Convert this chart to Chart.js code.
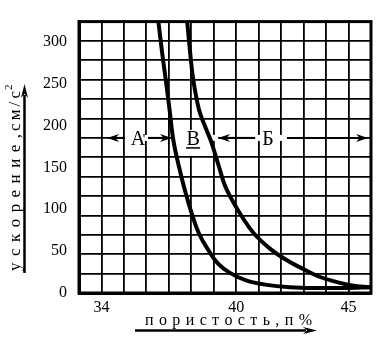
<!DOCTYPE html>
<html>
<head>
<meta charset="utf-8">
<script src="https://cdn.jsdelivr.net/npm/chart.js@4"></script>
<style>
  html, body { margin: 0; padding: 0; background: #fff; }
  #wrap { width: 378px; height: 338px; }
</style>
</head>
<body>
<div id="wrap"><canvas id="c" width="378" height="338"></canvas></div>
<script>
// Tick labels shown on the axes
const porosityTicks = [34, 40, 45];
const accelTicks = [0, 50, 100, 150, 200, 250, 300];

// Curve 1 (left): porosity n, % and acceleration, cm/s²
const porosityA = [36.50, 36.70, 36.87, 37.03, 37.21, 37.45, 37.72, 38.03, 38.34, 38.74, 39.19, 39.72, 40.44, 41.28, 42.39, 43.73, 45.07, 45.96];
const accelA    = [332,   287,   253,   219,   181,   151,   122,   94,    71,    52,    35,    24,    15,    10,    7,     6,     6,     7];

// Curve 2 (right)
const porosityB = [37.79, 37.92, 38.08, 38.34, 38.61, 38.88, 39.23, 39.50, 39.86, 40.26, 40.79, 41.50, 42.20, 42.88, 43.64, 44.49, 45.15, 45.96];
const accelB    = [332,   295,   256,   219,   199,   181,   151,   128,   109,   91,    71,    53,    40,    30,    20,    13,    9,     7];

// Zone labels on the arrow row and their arrows (porosity values)
const zoneLabels = ["А", "В", "Б"];
const zoneLabelX = [35.63, 38.08, 41.41];
const arrowFrom  = [35.05, 36.07, 40.84, 42.26];
const arrowTo    = [34.25, 37.14, 39.19, 45.87];

const X_MIN = 33, X_MAX = 46, Y_MAX = 324, Y_GRID = 14, ROW_LINE = 8;
const SERIF = '"Liberation Serif", "DejaVu Serif", serif';

const yGridValues = Array.from({ length: Y_GRID + 1 }, (_, k) => k * Y_MAX / Y_GRID);
const isGridValue = v => yGridValues.some(g => Math.abs(g - v) < 1e-6);
const rowValue = yGridValues[ROW_LINE];

function toPoints(xs, ys) { return xs.map((x, i) => ({ x, y: ys[i] })); }

// draws characters evenly spread between start and end along the x direction
function drawEven(ctx, text, start, end, y) {
  const chars = [...text];
  const w = chars.map(c => ctx.measureText(c).width);
  const total = w.reduce((a, b) => a + b, 0);
  const gap = chars.length > 1 ? (end - start - total) / (chars.length - 1) : 0;
  let p = start;
  chars.forEach((c, i) => { ctx.fillText(c, p, y); p += w[i] + gap; });
}

function arrowHead(ctx, tipX, tipY, dx, dy, len, half) {
  // (dx, dy) is the unit direction the arrow points to
  const bx = tipX - dx * len, by = tipY - dy * len;
  const nx = -dy, ny = dx;
  ctx.beginPath();
  ctx.moveTo(tipX, tipY);
  ctx.lineTo(bx + nx * half, by + ny * half);
  ctx.lineTo(tipX - dx * len * 0.7, tipY - dy * len * 0.7);
  ctx.lineTo(bx - nx * half, by - ny * half);
  ctx.closePath();
  ctx.fill();
}

const figureDecor = {
  id: 'figureDecor',
  beforeDatasetsDraw(chart) {
    const { ctx, scales: { x, y } } = chart;
    const rowY = y.getPixelForValue(rowValue);
    ctx.save();
    // clear the grid line behind the zone labels and between the curves
    ctx.fillStyle = '#fff';
    const gaps = [[arrowFrom[0], arrowFrom[1]], [arrowTo[1], arrowTo[2]], [arrowFrom[2], arrowFrom[3]]];
    for (const [a, b] of gaps) {
      const p0 = x.getPixelForValue(a), p1 = x.getPixelForValue(b);
      ctx.fillRect(p0, rowY - 3, p1 - p0, 6);
    }
    const bx = x.getPixelForValue(zoneLabelX[1]);
    ctx.fillRect(bx - 8, rowY - 8, 16, 26);

    // arrows
    ctx.strokeStyle = '#000';
    ctx.fillStyle = '#000';
    ctx.lineWidth = 2;
    arrowFrom.forEach((f, i) => {
      const p0 = x.getPixelForValue(f), p1 = x.getPixelForValue(arrowTo[i]);
      const dir = Math.sign(p1 - p0);
      ctx.beginPath();
      ctx.moveTo(p0, rowY);
      ctx.lineTo(p1 - dir * 8, rowY);
      ctx.stroke();
      arrowHead(ctx, p1, rowY, dir, 0, 12, 4);
    });

    // zone labels
    ctx.font = `20px ${SERIF}`;
    ctx.textAlign = 'center';
    ctx.textBaseline = 'alphabetic';
    const base = rowY + 7;
    zoneLabels.forEach((t, i) => {
      const cx = x.getPixelForValue(zoneLabelX[i]);
      ctx.fillText(t, cx, base);
    });
    // prime on А
    const ax = x.getPixelForValue(zoneLabelX[0]);
    ctx.font = `14px ${SERIF}`;
    ctx.fillText("'", ax + 6, base - 1);
    // underline of В
    ctx.lineWidth = 1.5;
    ctx.beginPath();
    ctx.moveTo(bx - 7, base + 3);
    ctx.lineTo(bx + 7, base + 3);
    ctx.stroke();
    ctx.restore();
  },
  afterDraw(chart) {
    const { ctx, chartArea: a } = chart;
    ctx.save();
    // frame
    ctx.strokeStyle = '#000';
    ctx.lineWidth = 3;
    ctx.strokeRect(a.left, a.top, a.right - a.left, a.bottom - a.top);

    ctx.fillStyle = '#000';
    ctx.textAlign = 'left';
    ctx.textBaseline = 'alphabetic';

    // x axis title with arrow
    ctx.font = `16px ${SERIF}`;
    drawEven(ctx, 'пористость,п%', 145, 312, 325);
    ctx.lineWidth = 2.5;
    ctx.beginPath();
    ctx.moveTo(135, 330.5);
    ctx.lineTo(306, 330.5);
    ctx.stroke();
    arrowHead(ctx, 317, 330.5, 1, 0, 14, 3.5);

    // y axis title with arrow
    ctx.save();
    ctx.rotate(-Math.PI / 2);
    ctx.font = `17px ${SERIF}`;
    drawEven(ctx, 'ускорение,', -271, -134, 20);
    drawEven(ctx, 'см/с', -131, -91, 20);
    ctx.font = `11px ${SERIF}`;
    ctx.fillText('2', -90, 12);
    ctx.restore();
    ctx.beginPath();
    ctx.moveTo(24.5, 273);
    ctx.lineTo(24.5, 95);
    ctx.stroke();
    arrowHead(ctx, 24.5, 84, 0, -1, 14, 3.5);
    ctx.restore();
  }
};

const curveStyle = {
  showLine: true,
  pointRadius: 0,
  borderColor: '#000',
  borderWidth: 4,
  tension: 0.4,
  clip: 0
};

new Chart(document.getElementById('c'), {
  type: 'scatter',
  data: {
    datasets: [
      Object.assign({ label: 'кривая 1', data: toPoints(porosityA, accelA) }, curveStyle),
      Object.assign({ label: 'кривая 2', data: toPoints(porosityB, accelB) }, curveStyle)
    ]
  },
  options: {
    responsive: false,
    animation: false,
    devicePixelRatio: 1,
    layout: { padding: { top: 7, right: 7, left: 0, bottom: 0 } },
    plugins: { legend: { display: false }, tooltip: { enabled: false } },
    scales: {
      x: {
        type: 'linear',
        min: X_MIN,
        max: X_MAX,
        afterFit: s => { s.height = 45; },
        grid: { drawTicks: false, lineWidth: 1.8, color: '#000' },
        border: { width: 3, color: '#000' },
        ticks: {
          stepSize: 1,
          autoSkip: false,
          maxRotation: 0,
          padding: 5,
          color: '#000',
          font: { family: SERIF, size: 16 },
          callback: v => porosityTicks.includes(v) ? String(v) : ''
        }
      },
      y: {
        type: 'linear',
        min: 0,
        max: Y_MAX,
        afterBuildTicks: s => {
          const vals = [...new Set([...yGridValues, ...accelTicks])].sort((p, q) => p - q);
          s.ticks = vals.map(v => ({ value: v }));
        },
        afterFit: s => { s.width = 79; },
        grid: {
          drawTicks: false,
          lineWidth: 1.8,
          color: c => (c.tick && !isGridValue(c.tick.value)) ? 'rgba(0,0,0,0)' : '#000'
        },
        border: { width: 3, color: '#000' },
        ticks: {
          autoSkip: false,
          padding: 12,
          color: '#000',
          font: { family: SERIF, size: 16 },
          callback: v => accelTicks.includes(v) ? String(v) : ''
        }
      }
    }
  },
  plugins: [figureDecor]
});
</script>
</body>
</html>
